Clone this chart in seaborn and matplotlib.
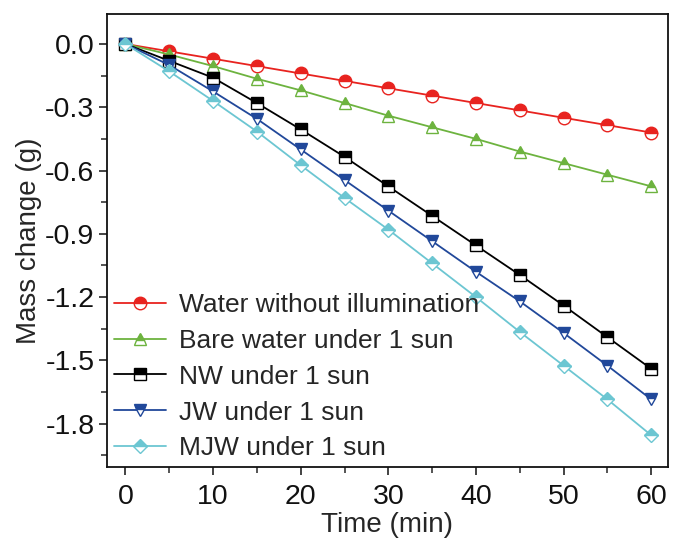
import numpy as np
import pandas as pd
import matplotlib
matplotlib.use("Agg")
import matplotlib.pyplot as plt
import seaborn as sns
from matplotlib.ticker import MultipleLocator

time_min = [0, 5, 10, 15, 20, 25, 30, 35, 40, 45, 50, 55, 60]
water_dark = [0, -0.035, -0.07, -0.105, -0.14, -0.175, -0.21, -0.245, -0.28, -0.315, -0.35, -0.385, -0.42]
bare_water = [0, -0.05, -0.105, -0.165, -0.22, -0.28, -0.34, -0.395, -0.45, -0.51, -0.565, -0.62, -0.675]
nw = [0, -0.08, -0.16, -0.28, -0.405, -0.535, -0.675, -0.815, -0.955, -1.095, -1.24, -1.39, -1.54]
jw = [0, -0.1, -0.225, -0.355, -0.5, -0.645, -0.79, -0.935, -1.08, -1.22, -1.37, -1.525, -1.685]
mjw = [0, -0.13, -0.27, -0.415, -0.575, -0.73, -0.88, -1.04, -1.2, -1.365, -1.525, -1.685, -1.855]

labels = ["Water without illumination", "Bare water under 1 sun",
          "NW under 1 sun", "JW under 1 sun", "MJW under 1 sun"]
series = [water_dark, bare_water, nw, jw, mjw]
colors = ["#e8231f", "#6db33f", "#000000", "#21489a", "#6cc6d2"]
markers = ["o", "^", "s", "v", "D"]
msizes = [9, 9, 8, 9, 7.5]

sns.set_style("ticks")
plt.rcParams["font.family"] = ["Liberation Sans", "DejaVu Sans"]

fig = plt.figure(figsize=(6.75, 5.42), dpi=100)
ax = fig.add_axes([0.1585, 0.1384, 0.8311, 0.8358])

for lab, vals, c, m, ms in zip(labels, series, colors, markers, msizes):
    df = pd.DataFrame({"Time (min)": time_min, "Mass change (g)": vals})
    sns.lineplot(data=df, x="Time (min)", y="Mass change (g)", ax=ax,
                 color=c, marker=m, markersize=ms, fillstyle="top",
                 markerfacecolor=c, markerfacecoloralt="white",
                 markeredgecolor=c, markeredgewidth=1.0, linewidth=1.3,
                 label=lab)

ax.set_xlim(-2.1, 61.9)
ax.set_ylim(-2.005, 0.142)
ax.xaxis.set_major_locator(MultipleLocator(10))
ax.xaxis.set_minor_locator(MultipleLocator(5))
ax.yaxis.set_major_locator(MultipleLocator(0.3))
ax.yaxis.set_minor_locator(MultipleLocator(0.15))
ax.yaxis.set_major_formatter(matplotlib.ticker.FormatStrFormatter("%.1f"))

ax.tick_params(which="major", direction="out", length=6, width=1.1, labelsize=20.5,
               colors="#111111", pad=3)
ax.tick_params(axis="x", which="major", pad=6)
ax.tick_params(which="minor", direction="out", length=4, width=1.1)
for s in ax.spines.values():
    s.set_linewidth(1.3)
    s.set_color("#111111")

ax.set_xlabel("Time (min)", fontsize=20, labelpad=2)
ax.set_ylabel("Mass change (g)", fontsize=20, labelpad=2)

ax.legend(loc="lower left", bbox_to_anchor=(0.0, 0.0), frameon=False,
          fontsize=19, handlelength=1.97, handletextpad=0.49, labelspacing=0.45,
          borderpad=0.0, borderaxespad=0.25)

fig.savefig("out.png", dpi=100)
